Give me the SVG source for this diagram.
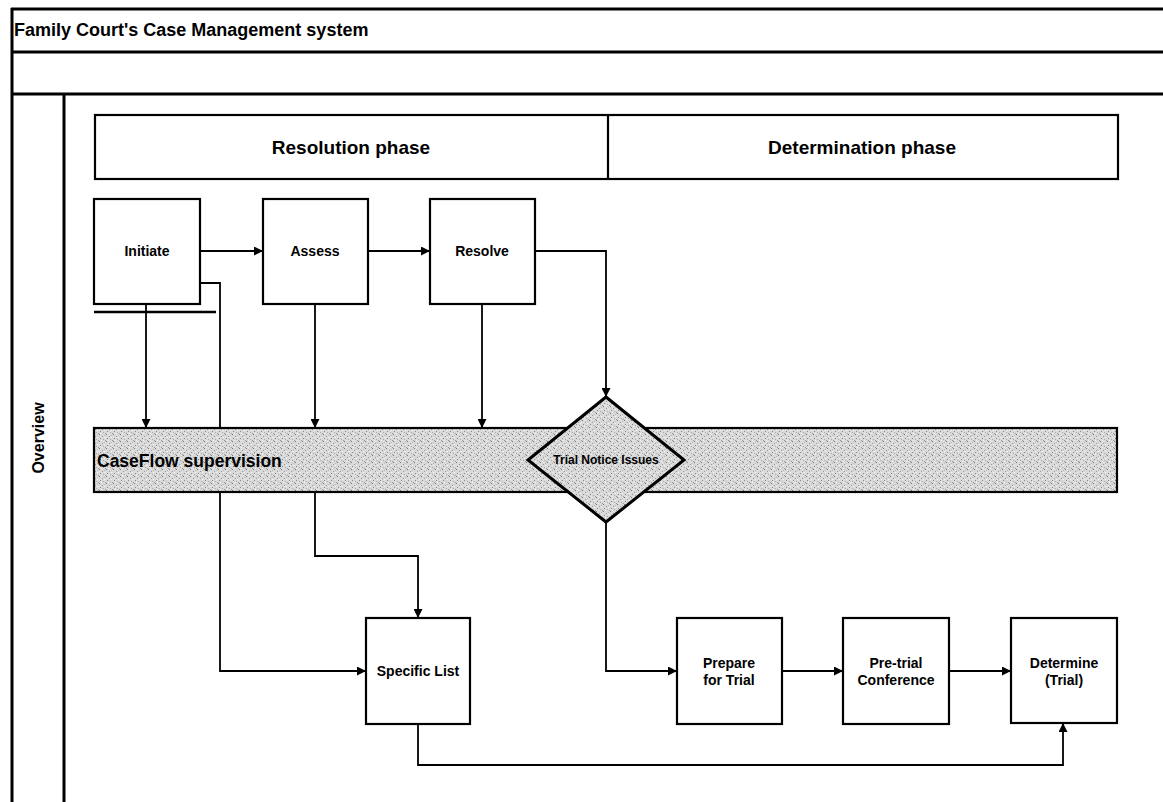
<svg xmlns="http://www.w3.org/2000/svg" width="1163" height="802" viewBox="0 0 1163 802">
<style>
.frame{fill:none;stroke:#000;stroke-width:3}
.box{fill:#fff;stroke:#000;stroke-width:2.2}
.lbl{font-family:"Liberation Sans",Arial,sans-serif;font-weight:bold;fill:#000;text-anchor:middle}
.con{fill:none;stroke:#000;stroke-width:1.8}
.arr{marker-end:url(#ah)}
</style>
<defs>
<marker id="ah" viewBox="0 0 10 10" refX="10" refY="5" markerWidth="10" markerHeight="9" markerUnits="userSpaceOnUse" orient="auto">
<path d="M0,0 L10,5 L0,10 Z" fill="#000"/>
</marker>
<pattern id="stip" width="7" height="7" patternUnits="userSpaceOnUse">
<rect width="7" height="7" fill="#dadada"/>
<rect x="1" y="0" width="1" height="1" fill="#777"/>
<rect x="4" y="2" width="1" height="1" fill="#999"/>
<rect x="2" y="4" width="1" height="1" fill="#888"/>
<rect x="5" y="5" width="1" height="1" fill="#aaa"/>
<rect x="0" y="6" width="1" height="1" fill="#999"/>
<rect x="6" y="1" width="1" height="1" fill="#bbb"/>
<rect x="3" y="6" width="1" height="1" fill="#f4f4f4"/>
<rect x="6" y="3" width="1" height="1" fill="#f4f4f4"/>
</pattern>
</defs>
<rect width="1163" height="802" fill="#fff"/>
<g id="frame">
<line class="frame" x1="11" y1="9" x2="1163" y2="9"/>
<line class="frame" x1="12" y1="8" x2="12" y2="802"/>
<line class="frame" x1="11" y1="52" x2="1163" y2="52"/>
<line class="frame" x1="11" y1="94" x2="1163" y2="94"/>
<line class="frame" x1="64" y1="94" x2="64" y2="802"/>
<text class="lbl" x="14" y="36" style="text-anchor:start;font-size:18px">Family Court's Case Management system</text>
<text class="lbl" x="0" y="0" transform="translate(44,438) rotate(-90)" style="font-size:16px">Overview</text>
</g>
<g id="phases">
<rect class="box" x="95" y="115" width="1023" height="64"/>
<line class="box" x1="608" y1="115" x2="608" y2="179"/>
<text class="lbl" x="351" y="154" style="font-size:19px">Resolution phase</text>
<text class="lbl" x="862" y="154" style="font-size:19px">Determination phase</text>
</g>
<g id="initiate">
<rect class="box" x="94" y="199" width="106" height="105"/>
<text class="lbl" x="147" y="256" style="font-size:14px">Initiate</text>
</g>
<g id="initiate-bar">
<line x1="94" y1="312" x2="216" y2="312" stroke="#000" stroke-width="2.5"/>
</g>
<g id="assess">
<rect class="box" x="263" y="199" width="105" height="105"/>
<text class="lbl" x="315" y="256" style="font-size:14px">Assess</text>
</g>
<g id="resolve">
<rect class="box" x="430" y="199" width="105" height="105"/>
<text class="lbl" x="482" y="256" style="font-size:14px">Resolve</text>
</g>
<g id="caseflow">
<rect x="94" y="428" width="1023" height="64" fill="url(#stip)" stroke="#000" stroke-width="2.2"/>
<text class="lbl" x="97" y="467" style="text-anchor:start;font-size:17.5px">CaseFlow supervision</text>
</g>
<g id="trial-notice">
<polygon points="606,397 684,460 606,522 528,460" fill="url(#stip)" stroke="#000" stroke-width="3"/>
<text class="lbl" x="606" y="464" style="font-size:12px">Trial Notice Issues</text>
</g>
<g id="specific-list">
<rect class="box" x="366" y="618" width="104" height="106"/>
<text class="lbl" x="418" y="676" style="font-size:14px">Specific List</text>
</g>
<g id="prepare">
<rect class="box" x="677" y="618" width="105" height="106"/>
<text class="lbl" x="729" y="668" style="font-size:14px">Prepare</text>
<text class="lbl" x="729" y="685" style="font-size:14px">for Trial</text>
</g>
<g id="pretrial">
<rect class="box" x="843" y="618" width="106" height="106"/>
<text class="lbl" x="896" y="668" style="font-size:14px">Pre-trial</text>
<text class="lbl" x="896" y="685" style="font-size:14px">Conference</text>
</g>
<g id="determine">
<rect class="box" x="1011" y="618" width="106" height="105"/>
<text class="lbl" x="1064" y="668" style="font-size:14px">Determine</text>
<text class="lbl" x="1064" y="685" style="font-size:14px">(Trial)</text>
</g>
<g id="connectors">
<path class="con arr" d="M200,251 H263"/>
<path class="con arr" d="M368,251 H430"/>
<path class="con arr" d="M535,251 H606 V397"/>
<path class="con arr" d="M146,304 V428"/>
<path class="con arr" d="M315,304 V428"/>
<path class="con arr" d="M482,304 V428"/>
<path class="con" d="M200,283 H220 V427"/>
<path class="con arr" d="M220,493 V671 H366"/>
<path class="con arr" d="M315,493 V556 H418 V618"/>
<path class="con arr" d="M606,522 V671 H677"/>
<path class="con arr" d="M782,671 H843"/>
<path class="con arr" d="M949,671 H1011"/>
<path class="con arr" d="M418,724 V765 H1063 V723"/>
</g>
</svg>
